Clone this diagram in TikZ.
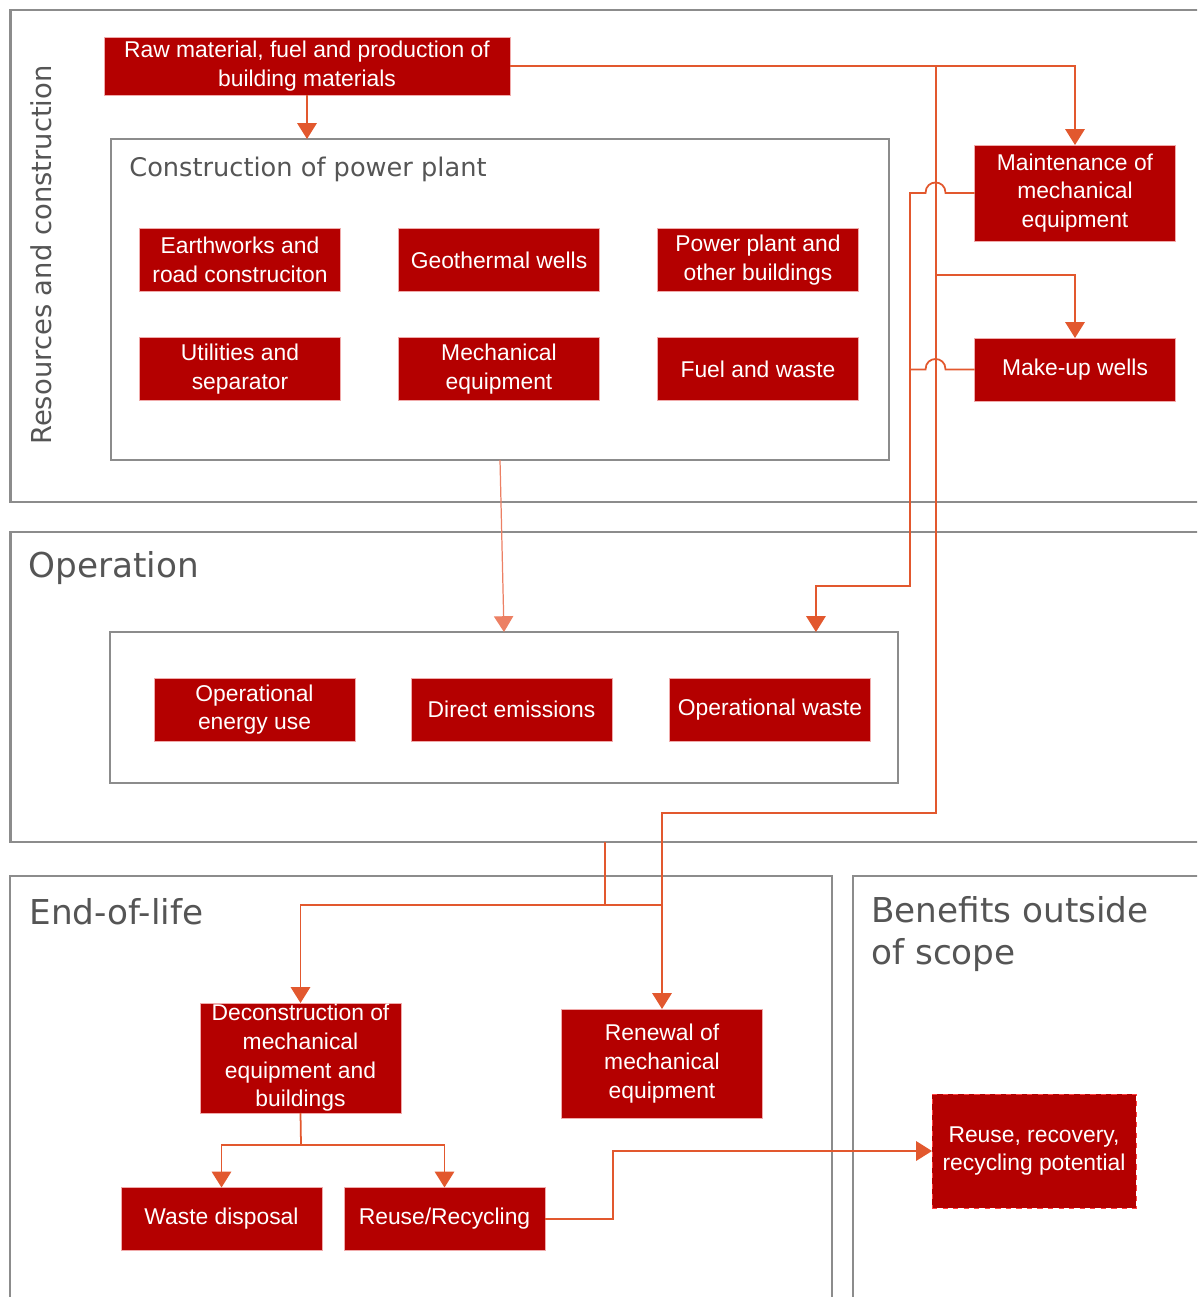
\documentclass[tikz,border=0pt]{standalone}
\usepackage{fontspec}
\setmainfont{Liberation Sans}
\newfontfamily\panelfont{DejaVu Sans}
\usetikzlibrary{arrows.meta}
\definecolor{boxred}{RGB}{180,0,0}
\definecolor{boxedge}{RGB}{240,170,170}
\definecolor{flowred}{RGB}{226,88,46}
\definecolor{flowlight}{RGB}{236,128,100}
\definecolor{panelgray}{RGB}{140,140,140}
\definecolor{labelgray}{RGB}{85,85,85}

\begin{document}
\begin{tikzpicture}[x=0.02cm, y=-0.02cm,
	redbox/.style={rectangle, fill=boxred, draw=boxedge, line width=0.5pt, text=white, align=center,
		font=\fontsize{13}{16.3}\selectfont, inner sep=0pt, outer sep=0pt,
		minimum width=4.02cm, minimum height=1.26cm},
	panel/.style={rectangle, draw=panelgray, line width=1.6pt, inner sep=0pt, outer sep=0pt},
	inbox/.style={rectangle, draw=panelgray, line width=1.3pt, inner sep=0pt, outer sep=0pt},
	paneltext/.style={text=labelgray, font=\panelfont\fontsize{19.5}{23.8}\selectfont, inner sep=0pt},
	subtext/.style={text=labelgray, font=\panelfont\fontsize{14.6}{17}\selectfont, inner sep=0pt},
	link/.style={draw=flowred, line width=1pt},
	flow/.style={link, -{Triangle[width=11pt,length=9pt]}}]
	\clip (0,0) rectangle (1197,1297);
	% panels
	\node[panel, minimum width=24.2cm, minimum height=9.84cm] (respanel) at (615,256) {};
	\node[panel, minimum width=24.2cm, minimum height=6.2cm] (oppanel) at (615,687) {};
	\node[panel, minimum width=16.44cm, minimum height=8.88cm] (eolpanel) at (421,1098) {};
	\node[panel, minimum width=7.34cm, minimum height=8.88cm] (benpanel) at (1036.5,1098) {};
	\node[subtext, font=\panelfont\fontsize{15.6}{17}\selectfont, rotate=90] (reslabel) at (41,255) {Resources and construction};
	\node[paneltext, anchor=west] (oplabel) at (28,568) {Operation};
	\node[paneltext, anchor=west] (eollabel) at (29,912) {End-of-life};
	\node[paneltext, anchor=north west, align=left] (benlabel) at (871,896) {Benefits outside\\of scope};
	% inner boxes
	\node[inbox, minimum width=15.56cm, minimum height=6.42cm] (conbox) at (500,299.5) {};
	\node[subtext, anchor=west] (conlabel) at (129,169) {Construction of power plant};
	\node[inbox, minimum width=15.76cm, minimum height=3.02cm] (opbox) at (504,707.5) {};
	% resources and construction
	\node[redbox, minimum width=8.12cm, minimum height=1.16cm] (raw) at (307,66) {Raw material, fuel and production of\\building materials};
	\node[redbox] (earth) at (240,260) {Earthworks and\\road construciton};
	\node[redbox] (geo) at (499,260) {Geothermal wells};
	\node[redbox] (plant) at (758,260) {Power plant and\\other buildings};
	\node[redbox] (util) at (240,369) {Utilities and\\separator};
	\node[redbox] (mech) at (499,369) {Mechanical\\equipment};
	\node[redbox] (fuel) at (758,369) {Fuel and waste};
	\node[redbox, minimum height=1.92cm] (maint) at (1075,193) {Maintenance of\\mechanical\\equipment};
	\node[redbox] (makeup) at (1075,369.5) {Make-up wells};
	% operation
	\node[redbox] (openergy) at (254.5,709.5) {Operational\\energy use};
	\node[redbox] (direct) at (511.5,709.5) {Direct emissions};
	\node[redbox] (opwaste) at (770,709.5) {Operational waste};
	% end-of-life
	\node[redbox, minimum height=2.2cm] (decon) at (300.5,1058) {Deconstruction of\\mechanical\\equipment and\\buildings};
	\node[redbox, minimum height=2.18cm] (renew) at (662,1063.5) {Renewal of\\mechanical\\equipment};
	\node[redbox] (waste) at (221.5,1219) {Waste disposal};
	\node[redbox] (reuse) at (444.5,1219) {Reuse/Recycling};
	\node[redbox, draw=red!75!white, dashed, minimum width=4.08cm, minimum height=2.28cm] (potential) at (1034,1151) {Reuse, recovery,\\recycling potential};
	% connectors
	\coordinate (trunk) at (936,66);
	\coordinate (branch) at (936,275);
	\coordinate (turn) at (936,813);
	\coordinate (retn) at (910,586);
	\coordinate (split) at (605,905);
	\coordinate (fork) at (301,1145);
	\draw[flow] (raw.south) -- (raw.south |- conbox.north);
	\draw[flow] (raw.east) -| (maint.north);
	\draw[flow] (trunk) -- (turn) -| (renew.north);
	\draw[flow] (branch) -| (makeup.north);
	\draw[flow] (maint.west) -- ++(-29,0) .. controls +(0,-14) and +(0,-14) .. ++(-20,0)
		-- (retn |- maint.west) -- (retn) -| ([xshift=6.24cm]opbox.north);
	\draw[link] (makeup.west) -- ++(-29,0) .. controls +(0,-14) and +(0,-14) .. ++(-20,0)
		-- (retn |- makeup.west);
	\draw[flowlight, line width=0.7pt, -{Triangle[width=11pt,length=9pt]}] (conbox.south) -- (opbox.north);
	\draw[link] (oppanel.south -| split) -- (split) -- (split -| renew.north);
	\draw[flow] (split) -| (decon.north);
	\draw[link] (decon.south) -- (fork);
	\draw[flow] (fork) -| (waste.north);
	\draw[flow] (fork) -| (reuse.north);
	\draw[flow] (reuse.east) -- ++(68,0) |- (potential.west);
\end{tikzpicture}
\end{document}
